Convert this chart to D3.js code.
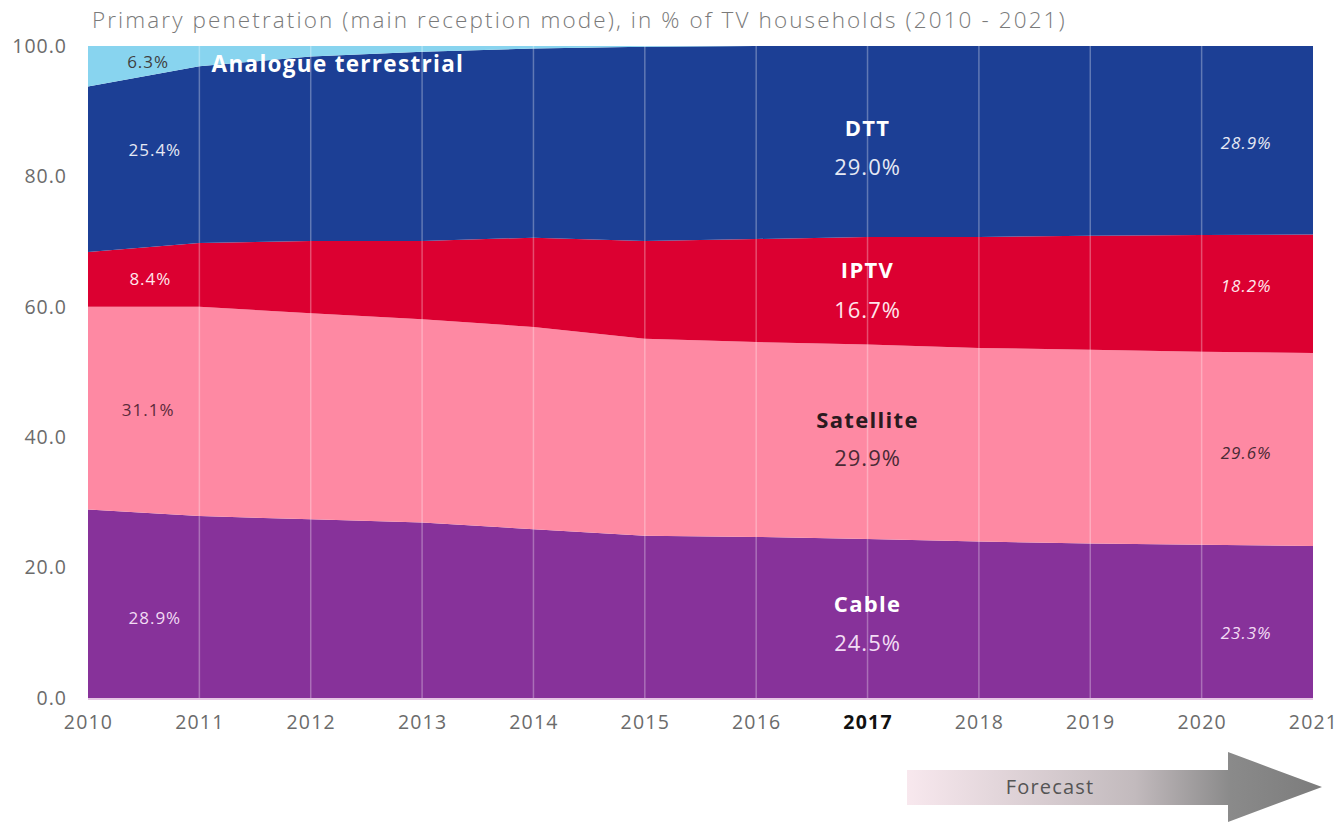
<!DOCTYPE html>
<html>
<head>
<meta charset="utf-8">
<script src="https://cdn.jsdelivr.net/npm/d3@7"></script>
<style>
  body { margin: 0; background: #fff; }
  text { font-family: "Open Sans", sans-serif; }
</style>
</head>
<body>
<div id="chart"></div>
<script>
// Data
const years = [2010, 2011, 2012, 2013, 2014, 2015, 2016, 2017, 2018, 2019, 2020, 2021];
const cable     = [28.9, 27.9, 27.4, 26.9, 25.9, 24.9, 24.7, 24.4, 24.0, 23.7, 23.5, 23.3];
const satellite = [31.1, 32.1, 31.6, 31.2, 31.0, 30.2, 29.9, 29.8, 29.7, 29.7, 29.6, 29.6];
const iptv      = [8.4, 9.8, 11.1, 12.0, 13.7, 15.0, 15.8, 16.5, 17.0, 17.5, 17.9, 18.2];
const dtt       = [25.4, 27.1, 28.3, 29.0, 29.0, 29.8, 29.6, 29.3, 29.3, 29.1, 29.0, 28.9];
const analogue  = [6.2, 3.1, 1.6, 0.9, 0.4, 0.1, 0.0, 0.0, 0.0, 0.0, 0.0, 0.0];
const yTicks = [0, 20, 40, 60, 80, 100];

const keys = ['cable', 'satellite', 'iptv', 'dtt', 'analogue'];
const colors = {
  cable: '#87329a',
  satellite: '#fe89a3',
  iptv: '#dc0031',
  dtt: '#1c3f95',
  analogue: '#88d4ef'
};

const rows = years.map((yr, i) => ({
  year: yr, cable: cable[i], satellite: satellite[i], iptv: iptv[i], dtt: dtt[i], analogue: analogue[i]
}));

const W = 1340, H = 823;
const svg = d3.select('#chart').append('svg')
  .attr('width', W).attr('height', H);

const x = d3.scaleLinear().domain([2010, 2021]).range([88, 1313]);
const y = d3.scaleLinear().domain([0, 100]).range([698, 46]);

// Title
svg.append('text')
  .attr('x', 92).attr('y', 28)
  .attr('font-size', 22.5).attr('font-weight', 300)
  .attr('letter-spacing', 2.1)
  .attr('fill', '#7a7a7a')
  .text('Primary penetration (main reception mode), in % of TV households (2010 - 2021)');

// Stacked areas
const series = d3.stack().keys(keys)(rows);
const area = d3.area()
  .x(d => x(d.data.year))
  .y0(d => y(d[0]))
  .y1(d => y(d[1]));

svg.append('clipPath').attr('id', 'plotclip')
  .append('rect').attr('x', x(2010)).attr('y', y(100))
  .attr('width', x(2021) - x(2010)).attr('height', y(0) - y(100));

svg.append('g').attr('clip-path', 'url(#plotclip)')
  .selectAll('path')
  .data(series)
  .join('path')
    .attr('d', area)
    .attr('fill', d => colors[d.key]);

// Vertical year gridlines over the areas
svg.append('g')
  .selectAll('line')
  .data(years.slice(1, -1))
  .join('line')
    .attr('x1', d => x(d)).attr('x2', d => x(d))
    .attr('y1', y(100)).attr('y2', y(0))
    .attr('stroke', '#ffffff').attr('stroke-opacity', 0.3).attr('stroke-width', 1.5);

// baseline
svg.append('line')
  .attr('x1', x(2010)).attr('x2', x(2021))
  .attr('y1', y(0) + 1).attr('y2', y(0) + 1)
  .attr('stroke', '#e6c6e4').attr('stroke-width', 2);

// Y axis labels
const yAxis = svg.append('g')
  .attr('transform', `translate(${x(2010)},0)`)
  .call(d3.axisLeft(y).tickValues(yTicks).tickFormat(d3.format('.1f')).tickSize(0).tickPadding(21));
yAxis.select('.domain').remove();
yAxis.selectAll('text')
  .attr('font-size', 19.5).attr('fill', '#6b6b6b')
  .attr('letter-spacing', 1)
  .style('font-family', '"Open Sans", sans-serif');

// X axis labels
const xAxis = svg.append('g')
  .attr('transform', `translate(0,${y(0)})`)
  .call(d3.axisBottom(x).tickValues(years).tickFormat(d3.format('d')).tickSize(0).tickPadding(17));
xAxis.select('.domain').remove();
xAxis.selectAll('text')
  .attr('font-size', 19.5)
  .attr('letter-spacing', 1.2)
  .attr('fill', d => d === 2017 ? '#111' : '#6b6b6b')
  .attr('font-weight', d => d === 2017 ? 700 : 400)
  .style('font-family', '"Open Sans", sans-serif');

// Annotations
const notes = [
  { t: '6.3%', yr: 2010.54, v: 97.5, size: 17, fill: '#3f3f3f' },
  { t: 'Analogue terrestrial', yr: 2011.11, v: 97.2, size: 22.5, fill: '#ffffff', bold: true, anchor: 'start' },
  { t: '25.4%', yr: 2010.6, v: 84.0, size: 17, fill: '#e6e9f4' },
  { t: '8.4%', yr: 2010.56, v: 64.3, size: 17, fill: '#ffe6ec' },
  { t: '31.1%', yr: 2010.54, v: 44.2, size: 17, fill: '#5c2a3a' },
  { t: '28.9%', yr: 2010.6, v: 12.3, size: 17, fill: '#f2dcf4' },
  { t: 'DTT', yr: 2017, v: 87.4, size: 22, fill: '#ffffff', bold: true },
  { t: '29.0%', yr: 2017, v: 81.4, size: 22, fill: '#e6e9f4' },
  { t: 'IPTV', yr: 2017, v: 65.6, size: 22, fill: '#ffffff', bold: true },
  { t: '16.7%', yr: 2017, v: 59.5, size: 22, fill: '#ffe6ec' },
  { t: 'Satellite', yr: 2017, v: 42.6, size: 22, fill: '#2a1a20', bold: true },
  { t: '29.9%', yr: 2017, v: 36.7, size: 22, fill: '#4a2a35' },
  { t: 'Cable', yr: 2017, v: 14.4, size: 22, fill: '#ffffff', bold: true },
  { t: '24.5%', yr: 2017, v: 8.4, size: 22, fill: '#f2dcf4' },
  { t: '28.9%', yr: 2020.4, v: 85.1, size: 17, fill: '#e6e9f4', italic: true },
  { t: '18.2%', yr: 2020.4, v: 63.2, size: 17, fill: '#ffe6ec', italic: true },
  { t: '29.6%', yr: 2020.4, v: 37.6, size: 17, fill: '#4a2a35', italic: true },
  { t: '23.3%', yr: 2020.4, v: 10.0, size: 17, fill: '#f2dcf4', italic: true }
];

svg.append('g')
  .selectAll('text')
  .data(notes)
  .join('text')
    .attr('x', d => x(d.yr))
    .attr('y', d => y(d.v))
    .attr('dy', '0.35em')
    .attr('text-anchor', d => d.anchor || 'middle')
    .attr('font-size', d => d.size)
    .attr('font-weight', d => d.bold ? 700 : 400)
    .attr('font-style', d => d.italic ? 'italic' : 'normal')
    .attr('letter-spacing', d => d.bold ? 1.3 : 1)
    .attr('fill', d => d.fill)
    .text(d => d.t);

// Forecast arrow
const defs = svg.append('defs');
const grad = defs.append('linearGradient').attr('id', 'fcgrad')
  .attr('x1', '0%').attr('x2', '100%').attr('y1', '0%').attr('y2', '0%');
grad.append('stop').attr('offset', '0%').attr('stop-color', '#f8e8ee');
grad.append('stop').attr('offset', '55%').attr('stop-color', '#c2babd');
grad.append('stop').attr('offset', '78%').attr('stop-color', '#8a8a8a');
grad.append('stop').attr('offset', '100%').attr('stop-color', '#7c7c7c');

const ax0 = 907, ax1 = 1228, tip = 1322, midY = 787;
svg.append('path')
  .attr('d', `M${ax0},${midY - 17}L${ax1},${midY - 17}L${ax1},${midY - 35}L${tip},${midY}L${ax1},${midY + 35}L${ax1},${midY + 18}L${ax0},${midY + 18}Z`)
  .attr('fill', 'url(#fcgrad)');

svg.append('text')
  .attr('x', 1050).attr('y', midY)
  .attr('dy', '0.35em')
  .attr('text-anchor', 'middle')
  .attr('font-size', 20)
  .attr('letter-spacing', 1.2)
  .attr('fill', '#555')
  .text('Forecast');
</script>
</body>
</html>
